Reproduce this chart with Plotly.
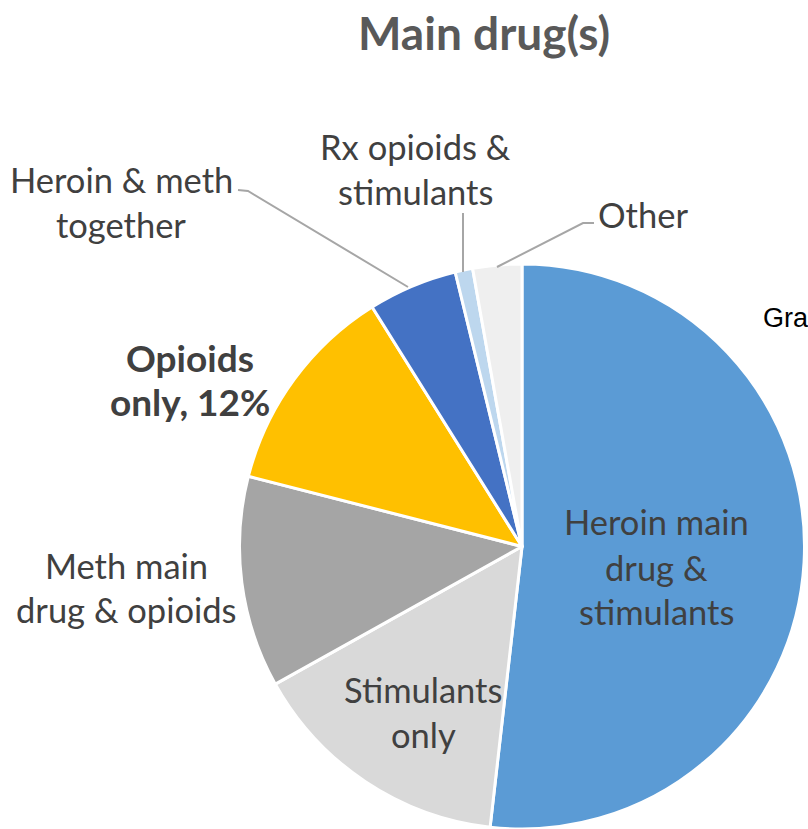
import plotly.graph_objects as go

W, H = 808, 829

labels = ["Heroin main drug & stimulants", "Stimulants only", "Meth main drug & opioids",
          "Opioids only", "Heroin & meth together", "Rx opioids & stimulants", "Other"]
values = [51.8, 15.1, 12.1, 12.1, 5.1, 1.0, 2.8]
colors = ["#5B9BD5", "#D9D9D9", "#A5A5A5", "#FFC000", "#4472C4", "#BDD7EE", "#EFEFEF"]

title_text = "Main drug(s)"

FONT = "Lato"
TXT = "#404040"


def px(x, y):
    return x / W, 1 - y / H


cx, cy, r = 522, 547, 283
x0, x1 = (cx - r) / W, (cx + r) / W
y0, y1 = max(0, (H - cy - r) / H), (H - cy + r) / H

fig = go.Figure(go.Pie(
    labels=labels, values=values, sort=False, direction="clockwise", rotation=0,
    marker=dict(colors=colors, line=dict(color="white", width=3)),
    textinfo="none", hoverinfo="label+percent", showlegend=False,
    domain=dict(x=[x0, x1], y=[y0, y1]),
))

ann = []


def label(text, x, y, size=34.5, bold=False, color=TXT, family=FONT):
    xx, yy = px(x, y)
    t = "<b>" + text + "</b>" if bold else text
    ann.append(dict(text=t, x=xx, y=yy, xref="paper", yref="paper", showarrow=False,
                    xanchor="center", yanchor="middle",
                    font=dict(family=family, size=size, color=color)))


# labels (line by line)
label("Rx opioids &", 415, 147)
label("stimulants", 415, 191)
label("Heroin & meth", 121, 180)
label("together", 121, 224)
label("Other", 643, 214)
label("Opioids", 190, 357, size=37, bold=True)
label("only, 12%", 190, 401, size=37, bold=True)
label("Meth main", 126, 565)
label("drug & opioids", 126, 609)
label("Stimulants", 423, 689)
label("only", 423, 734)
label("Heroin main", 656, 521)
label("drug &", 656, 567)
label("stimulants", 656, 611)
label(title_text, 484, 32, size=46, bold=True, color="#595959")

# truncated text at right edge
gx, gy = px(761, 318)
ann.append(dict(text="Gra", x=gx, y=gy, xref="paper", yref="paper", showarrow=False,
                xanchor="left", yanchor="middle",
                font=dict(family="Liberation Sans", size=27, color="#000000")))

shapes = []


def leader(points):
    path = ""
    for i, (x, y) in enumerate(points):
        xx, yy = px(x, y)
        path += ("M" if i == 0 else "L") + f"{xx},{yy} "
    shapes.append(dict(type="path", path=path, xref="paper", yref="paper",
                       line=dict(color="#A6A6A6", width=2)))


leader([(238, 190), (248, 191), (408, 287)])
leader([(463, 213), (463, 272)])
leader([(594, 223), (583, 223), (497, 267)])

fig.update_layout(
    width=W, height=H, margin=dict(l=0, r=0, t=0, b=0),
    paper_bgcolor="white", plot_bgcolor="white",
    annotations=ann, shapes=shapes,
)

fig.write_html("out.html")
